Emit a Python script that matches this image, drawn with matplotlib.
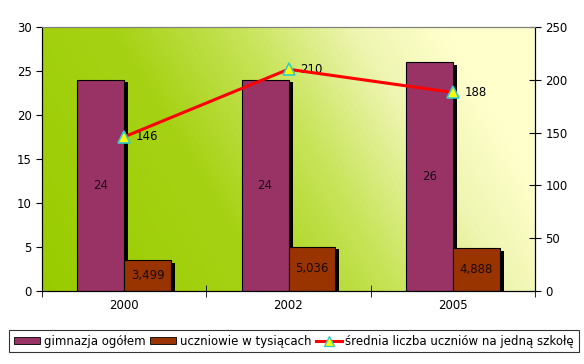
import numpy as np
import matplotlib.pyplot as plt
from matplotlib.colors import LinearSegmentedColormap
from matplotlib.patches import Patch
from matplotlib.lines import Line2D

years = ['2000', '2002', '2005']
gimnazja = [24, 24, 26]
uczniowie = [3.499, 5.036, 4.888]
srednia = [146, 210, 188]

purple = '#993366'
brown = '#993300'

plt.rcParams['font.family'] = ['DejaVu Sans']
fig = plt.figure(figsize=(5.84, 3.64), dpi=100)
ax = fig.add_axes([42 / 584, 1 - 291 / 364, 493 / 584, 264 / 364])
ax2 = ax.twinx()

# gradient background: green on the left -> pale yellow top-right
cmap = LinearSegmentedColormap.from_list(
    'bg', [(0, '#99cc00'), (0.35, '#a6d214'), (0.55, '#c8e45a'),
           (0.72, '#eef5b0'), (0.86, '#ffffcc'), (1, '#ffffcc')])
gx, gy = np.meshgrid(np.linspace(0, 1, 300), np.linspace(0, 1, 200))
grad = (gx * 493 + 0.6 * gy * 264) / (493 + 0.6 * 264)
ax.imshow(grad, cmap=cmap, vmin=0, vmax=1, extent=[0, 1, 0, 1], origin='lower',
          aspect='auto', transform=ax.transAxes, zorder=0)

x = np.arange(len(years))
w = 0.285
sh = 0.025
# shadows
ax.bar(x - w / 2 + sh, gimnazja, w, color='black', zorder=1, bottom=-0.3)
ax.bar(x + w / 2 + sh, uczniowie, w, color='black', zorder=1, bottom=-0.3)
ax.bar(x - w / 2, gimnazja, w, color=purple, edgecolor='black', linewidth=0.8, zorder=2)
ax.bar(x + w / 2, uczniowie, w, color=brown, edgecolor='black', linewidth=0.8, zorder=2)
for i in range(len(years)):
    ax.text(x[i] - w / 2, gimnazja[i] / 2, str(gimnazja[i]), ha='center', va='center',
            fontsize=8.5, color='#1a0a14', zorder=3)
    ax.text(x[i] + w / 2, uczniowie[i] / 2, f'{uczniowie[i]:.3f}'.replace('.', ','),
            ha='center', va='center', fontsize=8.5, color='#1a0a0a', zorder=3)

ax.set_xlim(-0.5, 2.5)
ax.set_ylim(0, 30)
ax.set_yticks(range(0, 31, 5))
ax.set_xticks(x)
ax.set_xticklabels(years)
ax.tick_params(axis='x', length=0, labelsize=8.5, pad=6)
ax.set_xticks([-0.5, 0.5, 1.5, 2.5], minor=True)
ax.tick_params(axis='x', which='minor', direction='inout', length=8)
ax.tick_params(axis='y', labelsize=8.5, length=4)

ax2.plot(x, srednia, color='#ff0000', linewidth=2.2, marker='^', markersize=9,
         markerfacecolor='#ffff00', markeredgecolor='#33cccc', markeredgewidth=1.2, zorder=5)
for i in range(len(years)):
    ax2.text(x[i] + 0.07, srednia[i], str(srednia[i]), ha='left', va='center', fontsize=8.5)
ax2.set_ylim(0, 250)
ax2.set_yticks(range(0, 251, 50))
ax2.tick_params(axis='y', direction='inout', length=8, labelsize=8.5)

ax.spines['top'].set_color('#808080')
ax2.spines['top'].set_color('#808080')
ax.set_zorder(ax2.get_zorder() - 1)
ax2.patch.set_visible(False)

# legend
handles = [Patch(facecolor=purple, edgecolor='black', linewidth=0.6),
           Patch(facecolor=brown, edgecolor='black', linewidth=0.6),
           Line2D([], [], color='#ff0000', linewidth=2.2, marker='^', markersize=7,
                  markerfacecolor='#ffff00', markeredgecolor='#33cccc')]
labels = ['gimnazja ogółem', 'uczniowie w tysiącach', 'średnia liczba uczniów na jedną szkołę']
leg = fig.legend(handles, labels, loc='center', bbox_to_anchor=(294 / 584, 1 - 341 / 364),
                 ncol=3, fontsize=8.5, frameon=True, fancybox=False, edgecolor='black',
                 handlelength=2.2, handleheight=0.6, handletextpad=0.3, columnspacing=0.4,
                 borderpad=0.4)
leg.get_frame().set_linewidth(0.8)

fig.savefig('out.png', dpi=100)
